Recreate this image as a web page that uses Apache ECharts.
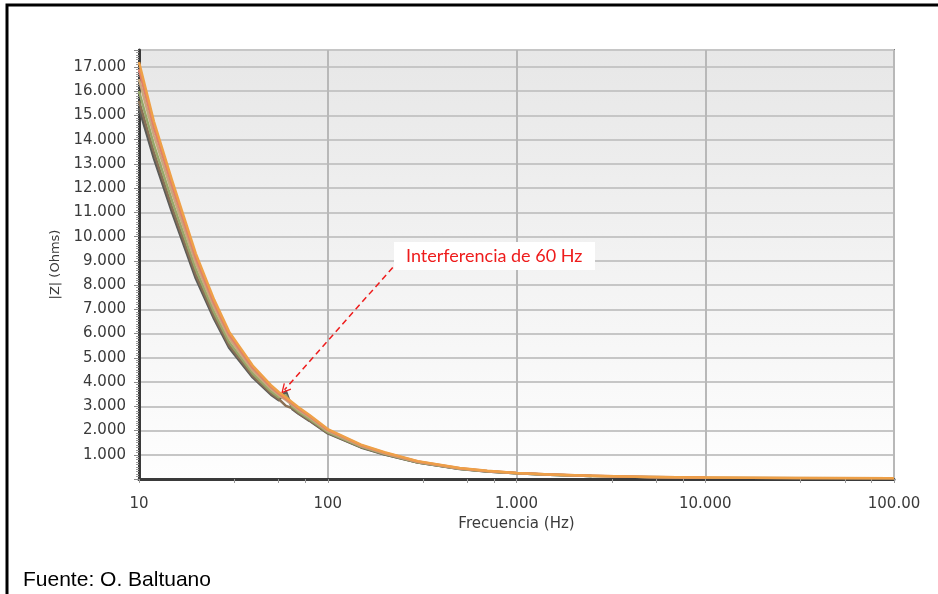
<!DOCTYPE html>
<html>
<head>
<meta charset="utf-8">
<script src="https://cdn.jsdelivr.net/npm/echarts@6/dist/echarts.min.js"></script>
<style>html,body{margin:0;padding:0;background:#fff}#c{width:938px;height:594px}</style>
</head>
<body>
<div id="c"></div>
<script>
// Frequencies (Hz)
const freqs = [10,12,15,20,25,30,40,50,55,60,65,70,80,100,150,200,300,500,700,1000,1500,2500,5000,10000,30000,100000];
// |Z| (Ohms) per measurement series
const serieNaranja = [17200,14750,12300,9300,7400,6080,4680,3870,3590,3370,3160,2960,2640,2060,1420,1105,738,452,336,251,189,131,85,59,43,33];
const serieRoja    = [16900,14500,12080,9120,7250,5960,4590,3800,3530,3310,3100,2910,2600,2025,1395,1085,724,446,331,248,186,129,83,58,null,null];
const serieTostada = [16500,14180,11800,8900,7080,5820,4480,3720,3460,3260,3050,2850,2550,1985,1370,1065,710,437,325,244,183,127,82,57,42,32];
const serieOliva   = [16000,13780,11450,8650,6880,5650,4360,3620,3370,3450,2980,2780,2480,1935,1335,1040,693,427,318,238,179,124,80,55,null,null];
const serieMarron  = [15600,13460,11180,8430,6720,5520,4260,3540,3300,3020,2920,2720,2430,1900,1315,1022,682,421,313,235,177,123,null,null,null,null];
const serieGris    = [15300,13220,10980,8270,6600,5420,4190,3480,3250,3620,2880,2690,2400,1880,1302,1012,676,417,311,233,175,122,null,null,null,null];
// Axis ticks
const xTickValues = [10,100,1000,10000,100000];
const xTickLabels = ['10','100','1.000','10.000','100.00'];
const xMinorTicks = [10,32,55,76,100,320,550,760,1000,3200,5500,7600,10000,32000,55000,76000,100000];
const yTickValues = [1000,2000,3000,4000,5000,6000,7000,8000,9000,10000,11000,12000,13000,14000,15000,16000,17000];
const yTickLabels = ['1.000','2.000','3.000','4.000','5.000','6.000','7.000','8.000','9.000','10.000','11.000','12.000','13.000','14.000','15.000','16.000','17.000'];
// Annotation
const annotText = 'Interferencia de 60 Hz';
const annotFrom = [221, 8730];
const annotTo = [59, 3680];

const seriesDefs = [
  {name:'S6', data:serieGris, color:'#5c5c58'},
  {name:'S5', data:serieMarron, color:'#8a7055'},
  {name:'S4', data:serieOliva, color:'#98a86a'},
  {name:'S3', data:serieTostada, color:'#c9a77c'},
  {name:'S2', data:serieRoja, color:'#e0806a'},
  {name:'S1', data:serieNaranja, color:'#eea048'}
];

const chart = echarts.init(document.getElementById('c'));
const tickFont = {fontFamily:'DejaVu Sans', fontSize:15, color:'#3a3a3a'};

const series = seriesDefs.map((s, idx) => ({
  type:'line', name:s.name, showSymbol:false, smooth:false,
  data: freqs.map((f,i) => [f, s.data[i]]),
  lineStyle:{color:s.color, width:2.5, join:'round'},
  itemStyle:{color:s.color},
  z: 2 + idx,
  animation:false
}));
series.push({
  type:'line', data:[], silent:true, animation:false,
  markLine:{
    silent:true, animation:false,
    symbol:['none','path://M0,0 L6,9 L4.6,9.6 L0,2.6 L-4.6,9.6 L-6,9 Z'],
    symbolSize:[10,10],
    label:{show:false},
    lineStyle:{color:'#ee1c1c', type:[6,4], width:1.5},
    data:[[{coord:annotFrom},{coord:annotTo}]]
  }
});

chart.setOption({
  animation:false,
  backgroundColor:'#ffffff',
  grid:{left:139, right:44, top:50, bottom:115, show:true,
    borderColor:'#7a7a7a', borderWidth:2,
    backgroundColor:{type:'linear',x:0,y:0,x2:0,y2:1,colorStops:[{offset:0,color:'#e7e7e7'},{offset:1,color:'#fefefe'}]}},
  xAxis:[{
    type:'log', logBase:10, min:10, max:100000,
    name:'Frecuencia (Hz)', nameLocation:'middle', nameGap:35,
    nameTextStyle:{fontFamily:'DejaVu Sans', fontSize:15, color:'#3a3a3a'},
    axisLine:{lineStyle:{color:'#3a3a3a', width:3}},
    axisTick:{show:false},
    axisLabel:{...tickFont, margin:18, customValues:xTickValues,
      formatter:(v)=>{const i=xTickValues.indexOf(v); return i>=0?xTickLabels[i]:'';}},
    splitLine:{show:true, lineStyle:{color:'#b8b8b8', width:2}}
  },{
    type:'log', logBase:10, min:10, max:100000, position:'bottom',
    axisLine:{show:false},
    axisTick:{show:true, length:4, lineStyle:{color:'#999'}, customValues:xMinorTicks},
    axisLabel:{show:false},
    splitLine:{show:false}
  }],
  yAxis:{
    type:'value', min:0, max:17700, interval:1000,
    name:'|Z| (Ohms)', nameLocation:'middle', nameGap:49,
    nameTextStyle:{fontFamily:'DejaVu Sans', fontSize:13, color:'#3a3a3a'},
    axisLine:{show:true, lineStyle:{color:'#3a3a3a', width:3}},
    axisTick:{show:true, length:5, lineStyle:{color:'#888'}},
    minorTick:{show:true, splitNumber:10, length:3, lineStyle:{color:'#999'}},
    axisLabel:{...tickFont, margin:13, showMaxLabel:false, showMinLabel:false,
      formatter:(v)=>{const i=yTickValues.indexOf(v); return i>=0?yTickLabels[i]:'';}},
    splitLine:{show:true, lineStyle:{color:'#c6c6c6', width:2}}
  },
  series:series,
  graphic:[
    {type:'rect', shape:{x:7, y:5, width:1100, height:1000}, style:{fill:'none', stroke:'#000', lineWidth:3}, silent:true, z:100},
    {type:'rect', shape:{x:394, y:242, width:201, height:28}, style:{fill:'#ffffff'}, z:100},
    {type:'text', x:406, y:256, style:{text:annotText, fill:'#ee1c1c', font:'18px Lato', verticalAlign:'middle'}, z:101},
    {type:'text', x:23, y:591, style:{text:'Fuente: O. Baltuano', fill:'#000', font:'21px "Liberation Sans"', verticalAlign:'bottom'}, z:101}
  ]
});
</script>
</body>
</html>
